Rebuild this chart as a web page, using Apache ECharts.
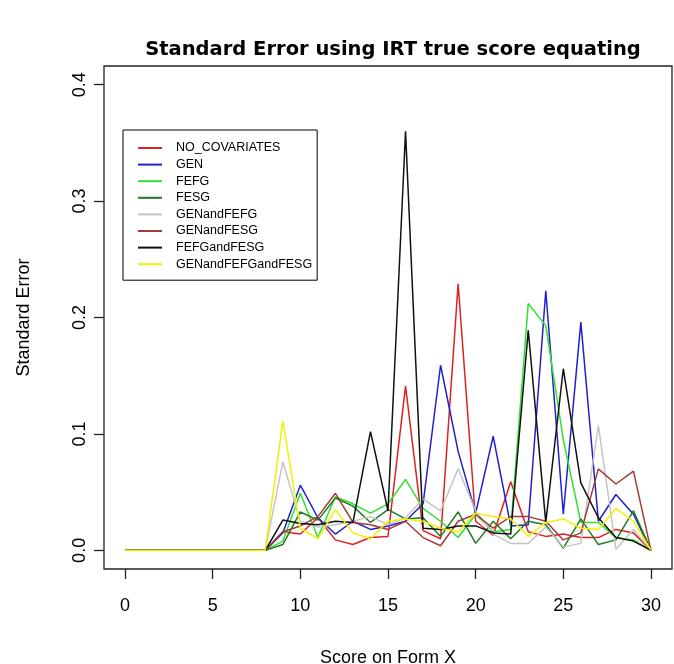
<!DOCTYPE html>
<html><head><meta charset="utf-8">
<script src="https://cdn.jsdelivr.net/npm/echarts@6/dist/echarts.min.js"></script>
<style>html,body{margin:0;padding:0;background:#fff}#c{width:674px;height:664px}</style>
</head><body><div id="c"></div>
<script>
const scores = [0,1,2,3,4,5,6,7,8,9,10,11,12,13,14,15,16,17,18,19,20,21,22,23,24,25,26,27,28,29,30];
const xTicks = [0,5,10,15,20,25,30];
const yTicks = [0,0.1,0.2,0.3,0.4];
const seriesNames = ["NO_COVARIATES","GEN","FEFG","FESG","GENandFEFG","GENandFESG","FEFGandFESG","GENandFEFGandFESG"];
const NO_COVARIATES = [0,0,0,0,0,0,0,0,0,0.016,0.014,0.028,0.009,0.005,0.011,0.012,0.141,0.017,0.010,0.229,0.025,0.013,0.059,0.016,0.012,0.014,0.011,0.011,0.018,0.015,0];
const GEN = [0,0,0,0,0,0,0,0,0,0.015,0.056,0.028,0.014,0.025,0.018,0.021,0.025,0.040,0.159,0.085,0.032,0.098,0.021,0.022,0.223,0.031,0.196,0.025,0.048,0.031,0];
const FEFG = [0,0,0,0,0,0,0,0,0,0.008,0.049,0.011,0.046,0.040,0.032,0.040,0.061,0.036,0.025,0.011,0.031,0.016,0.018,0.212,0.193,0.095,0.024,0.024,0.011,0.009,0];
const FESG = [0,0,0,0,0,0,0,0,0,0.005,0.033,0.026,0.045,0.038,0.024,0.035,0.027,0.028,0.012,0.033,0.006,0.025,0.010,0.025,0.022,0.002,0.027,0.005,0.009,0.034,0];
const GENandFEFG = [0,0,0,0,0,0,0,0,0,0.076,0.025,0.020,0.022,0.025,0.029,0.022,0.028,0.044,0.034,0.070,0.034,0.014,0.006,0.006,0.020,0.003,0.006,0.107,0.001,0.018,0];
const GENandFESG = [0,0,0,0,0,0,0,0,0,0.016,0.021,0.029,0.049,0.024,0.022,0.018,0.025,0.011,0.004,0.025,0.031,0.019,0.029,0.029,0.025,0.009,0.015,0.070,0.057,0.068,0];
const FEFGandFESG = [0,0,0,0,0,0,0,0,0,0.026,0.023,0.022,0.025,0.024,0.102,0.034,0.360,0.019,0.018,0.021,0.021,0.015,0.014,0.189,0.024,0.156,0.058,0.028,0.011,0.008,0];
const GENandFEFGandFESG = [0,0,0,0,0,0,0,0,0,0.111,0.019,0.010,0.035,0.015,0.010,0.025,0.027,0.025,0.019,0.016,0.032,0.029,0.027,0.012,0.024,0.027,0.019,0.018,0.036,0.025,0];
const seriesValues = [NO_COVARIATES,GEN,FEFG,FESG,GENandFEFG,GENandFESG,FEFGandFESG,GENandFEFGandFESG];
const colors = ["#e02020","#2020d0","#30e030","#1f7a1f","#c4c4c4","#a53a3a","#111111","#f2f200"];

const chart = echarts.init(document.getElementById('c'), null, {renderer:'canvas'});
const font = "'Liberation Sans', Arial, sans-serif";
chart.setOption({
  animation:false,
  backgroundColor:'#fff',
  title:{text:'Standard Error using IRT true score equating', left:388, textAlign:'center', top:35,
    textStyle:{fontFamily:"'DejaVu Sans', sans-serif", fontWeight:'bold', fontSize:19.5, color:'#000'}},
  grid:{left:104, right:2, top:66, bottom:95, show:true, borderColor:'#222', borderWidth:1.3, backgroundColor:'transparent',
    containLabel:false, outerBoundsMode:'none'},
  legend:{orient:'vertical', left:123, top:130, data:seriesNames, itemWidth:24, itemHeight:14, itemGap:2.6,
    padding:[11,5,9,14], borderColor:'#000', borderWidth:1, backgroundColor:'#fff',
    itemStyle:{opacity:0},
    textStyle:{fontFamily:font, fontSize:12.5, lineHeight:14, color:'#000', padding:[0,0,0,9]}},
  xAxis:{type:'value', min:-1.2, max:31.2, name:'Score on Form X', nameLocation:'middle', nameGap:80,
    nameTextStyle:{fontFamily:font, fontSize:18, color:'#000'},
    axisLine:{show:false, onZero:false}, splitLine:{show:false},
    axisTick:{show:true, inside:false, length:10, customValues:xTicks, lineStyle:{color:'#222', width:1.3}},
    axisLabel:{customValues:xTicks, margin:28, fontFamily:font, fontSize:18, color:'#000'}},
  yAxis:{type:'value', min:-0.016, max:0.416, name:'Standard Error', nameLocation:'middle', nameGap:71,
    nameTextStyle:{fontFamily:font, fontSize:18, color:'#000'},
    axisLine:{show:false, onZero:false}, splitLine:{show:false},
    axisTick:{show:true, inside:false, length:10, customValues:yTicks, lineStyle:{color:'#222', width:1.3}},
    axisLabel:{customValues:yTicks, rotate:90, margin:15, fontFamily:font, fontSize:18, color:'#000',
      formatter:v=>v.toFixed(1)}},
  series: seriesNames.map((n,i)=>({
    name:n, type:'line', symbol:'none', color:colors[i],
    lineStyle:{width:1.5, color:colors[i]},
    data: scores.map((s,j)=>[s, seriesValues[i][j]])
  }))
});
</script></body></html>
